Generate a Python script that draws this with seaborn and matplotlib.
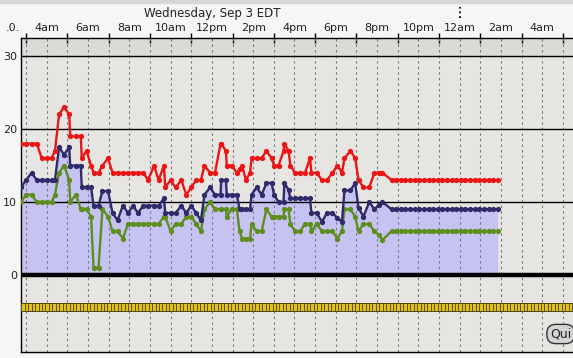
import numpy as np
import pandas as pd
import matplotlib
matplotlib.use("Agg")
import matplotlib.pyplot as plt
from matplotlib.patches import Rectangle
import seaborn as sns

# ---------------- data ----------------
# observation times, hours after midnight of Wed Sep 3 (EDT)
hours = [2.75, 3.00, 3.27, 3.52, 3.76, 4.00, 4.24, 4.40, 4.60, 4.84,
         5.09, 5.14, 5.42, 5.65, 5.70, 5.93, 6.15, 6.27, 6.51, 6.70,
         6.97, 7.19, 7.43, 7.69, 7.94, 8.18, 8.42, 8.68, 8.91, 9.20,
         9.42, 9.68, 9.74, 10.00, 10.24, 10.52, 10.76, 11.00, 11.24, 11.47,
         11.64, 11.91, 12.15, 12.42, 12.45, 12.68, 12.72, 12.95, 13.21, 13.34,
         13.46, 13.65, 13.85, 13.92, 14.17, 14.41, 14.64, 14.89, 15.01, 15.23,
         15.47, 15.51, 15.71, 15.80, 16.02, 16.27, 16.51, 16.75, 16.82, 17.07,
         17.33, 17.57, 17.84, 18.08, 18.30, 18.42, 18.71, 18.94, 19.10, 19.34,
         19.62, 19.87, 20.08, 20.26, 20.70, 20.92, 21.15, 21.37, 21.59, 21.82,
         22.04, 22.27, 22.49, 22.71, 22.94, 23.16, 23.38, 23.61, 23.83, 24.05,
         24.28, 24.50, 24.73, 24.95, 25.17, 25.40, 25.62, 25.84]

gust = [18, 18, 18, 18, 16, 16, 16, 17, 22, 23,
        22, 19, 19, 19, 16, 17, 15, 14, 14, 15,
        16, 14, 14, 14, 14, 14, 14, 14, 13, 15,
        13, 15, 12, 13, 12, 13, 11, 12, 13, 13,
        15, 14, 14, 18, 18, 17, 15, 15, 14, 14.5,
        15, 13, 14, 16, 16, 16, 17, 16, 15, 15,
        17, 18, 17, 15, 14, 14, 14, 16, 14, 14,
        13, 13, 14, 15, 14, 16, 17, 16, 13, 12,
        12, 14, 14, 14, 13, 13, 13, 13, 13, 13,
        13, 13, 13, 13, 13, 13, 13, 13, 13, 13,
        13, 13, 13, 13, 13, 13, 13, 13]

average = [12, 13, 14, 13, 13, 13, 13, 13, 17.5, 16.5,
           17.5, 15, 15, 15, 12, 12, 12, 9.5, 9.5, 11.5,
           11.5, 8.5, 7.5, 9.5, 8.5, 9.5, 8.5, 9.5, 9.5, 9.5,
           9.5, 10.5, 8.5, 8.5, 8.5, 9.5, 8.5, 9.5, 8.5, 7.5,
           11, 12, 11, 11, 13, 13, 11, 11, 11, 9,
           9, 9, 9, 11, 12, 11, 12.6, 12.6, 11, 10,
           10, 12.6, 11.7, 10.5, 10.5, 10.5, 10.5, 10.5, 8.5, 8.5,
           7.3, 8.5, 8.5, 7.8, 7.3, 11.6, 11.6, 12.6, 9.2, 8,
           10, 9, 9.6, 10, 9, 9, 9, 9, 9, 9,
           9, 9, 9, 9, 9, 9, 9, 9, 9, 9,
           9, 9, 9, 9, 9, 9, 9, 9]

lull = [10, 11, 11, 10, 10, 10, 10, 11, 14, 15,
        13, 10, 11, 9, 9, 9, 8, 1, 1, 9,
        8, 6, 6, 5, 7, 7, 7, 7, 7, 7,
        7, 8, 8, 6, 7, 7, 8, 8, 7, 6,
        9, 10, 9, 9, 9, 9, 8, 9, 9, 6,
        5, 5, 5, 7, 6, 6, 9, 8, 8, 8,
        8, 9, 9, 7, 6, 6, 7, 7, 6, 7,
        6, 6, 6, 5, 6, 9, 9, 8, 6, 7,
        7, 6, 5.5, 4.8, 6, 6, 6, 6, 6, 6,
        6, 6, 6, 6, 6, 6, 6, 6, 6, 6,
        6, 6, 6, 6, 6, 6, 6, 6]

tick_hours = [4, 6, 8, 10, 12, 14, 16, 18, 20, 22, 24, 26, 28]
tick_labels = ["4am", "6am", "8am", "10am", "12pm", "2pm", "4pm",
               "6pm", "8pm", "10pm", "12am", "2am", "4am"]
y_ticks = [0, 10, 20, 30]
title = "Wednesday, Sep 3 EDT"

# wind-direction arrow row (one glyph every 10 minutes across the panel)
arrow_hours = np.arange(2.80, 30.0, 1 / 6)
arrow_level = -4.45

# ---------------- styling ----------------
W, H = 573, 358
FIG_BG = "#f6f6f6"
PLOT_BG = "#e7e5e1"
BAND_BG = "#dcdad6"
FILL = "#c6c3f2"
COLORS = {"gust": "#ec1515", "average": "#2f2b6b", "lull": "#5e8e1d"}

sns.set_theme(style="white")
plt.rcParams["font.family"] = ["DejaVu Sans"]

df = pd.DataFrame({"hour": hours, "gust": gust, "average": average, "lull": lull})
long_df = df.melt(id_vars="hour", var_name="series", value_name="speed")

fig = plt.figure(figsize=(W / 100, H / 100), dpi=100, facecolor=FIG_BG)
fig.patches.append(Rectangle((0, 1 - 3 / H), 1, 3 / H, transform=fig.transFigure,
                             color="#d6d6d6", zorder=0))

x_left_px, x_right_px = 21, 583.6
ax = fig.add_axes([x_left_px / W, 6 / H, (x_right_px - x_left_px) / W, 314 / H])
ax.set_facecolor(PLOT_BG)
ax.set_xlim(2.756, 30.0)
ax.set_ylim(-10.55, 32.47)

# top band
ax.axhspan(30, 32.47, color=BAND_BG, zorder=0, lw=0)
# area under average
ax.fill_between(df["hour"], 0, df["average"], color=FILL, lw=0, zorder=1)

# grid
for h in range(3, 30):
    ax.axvline(h, color="#7a7a7a", lw=0.8, ls=(0, (2.2, 2.8)), zorder=2)
for yv in (10, 20, 30):
    ax.axhline(yv, color="black", lw=1.0, zorder=2)
ax.axhline(0, color="black", lw=3.2, zorder=3)

# series
sns.lineplot(data=long_df, x="hour", y="speed", hue="series",
             hue_order=["lull", "average", "gust"], palette=COLORS,
             estimator=None, sort=False, legend=False, ax=ax,
             marker="o", markersize=3.8, markeredgewidth=0, linewidth=1.7,
             zorder=4)

# direction arrows row
ax.scatter(arrow_hours, np.full(len(arrow_hours), arrow_level), marker="s", s=36,
           facecolor="#e0c01e", edgecolor="#3f3800", linewidths=0.55, zorder=4)

# axes / ticks
ax.xaxis.tick_top()
ax.set_xticks(tick_hours)
ax.set_xticklabels(tick_labels)
ax.set_xticks(range(3, 30, 2), minor=True)
ax.tick_params(axis="x", which="major", length=0, pad=3.5, labelsize=8,
               labelcolor="#222222", top=True, bottom=False)
ax.tick_params(axis="x", which="minor", length=7, width=1, direction="inout",
               color="black", top=True, bottom=False)
ax.set_yticks(y_ticks)
ax.set_yticklabels([str(v) for v in y_ticks])
ax.tick_params(axis="y", length=0, pad=3, labelsize=8, labelcolor="#222222")
ax.set_xlabel("")
ax.set_ylabel("")
for side in ("left", "top", "bottom"):
    ax.spines[side].set_color("black")
    ax.spines[side].set_linewidth(1.0)
ax.spines["right"].set_visible(False)

# midnight marker above the axis
ax.plot([24, 24], [35.2, 36.7], color="black", lw=1.3, ls=(0, (1, 1.6)),
        clip_on=False, zorder=5)

# texts
fig.text(212 / W, 1 - 13 / H, title, ha="center", va="center", fontsize=8.5,
         color="#222222")
fig.text(13 / W, 1 - 28 / H, ".0.", ha="center", va="center", fontsize=8,
         color="#222222")
fig.text(550 / W, 1 - 334 / H, "Qui", ha="left", va="center", fontsize=9,
         color="#222222",
         bbox=dict(boxstyle="round,pad=0.25,rounding_size=0.7", fc="#d4d4d4",
                   ec="#333333", lw=1))

fig.savefig("out.png", dpi=100, facecolor=FIG_BG)
